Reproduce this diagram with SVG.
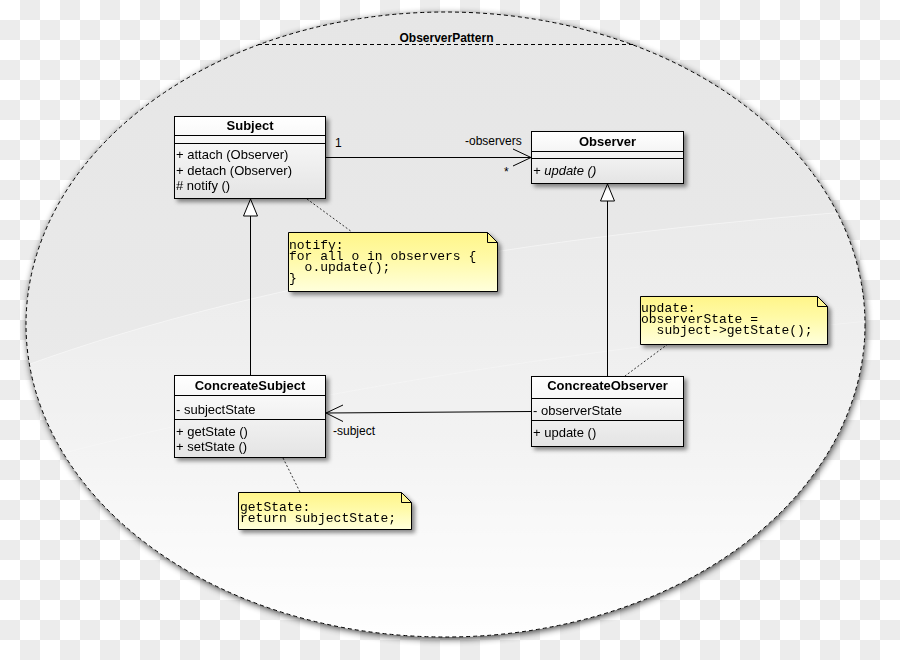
<svg xmlns="http://www.w3.org/2000/svg" width="900" height="660" viewBox="0 0 900 660">
  <defs>
    <pattern id="checker" width="40" height="40" patternUnits="userSpaceOnUse">
      <rect width="40" height="40" fill="#ffffff"/>
      <rect x="20" y="0" width="20" height="20" fill="#ececec"/>
      <rect x="0" y="20" width="20" height="20" fill="#ececec"/>
    </pattern>
    <filter id="pkgShadow" x="-10%" y="-10%" width="120%" height="120%">
      <feGaussianBlur in="SourceAlpha" stdDeviation="3.5"/>
      <feOffset dx="1" dy="2" result="b"/>
      <feComponentTransfer><feFuncA type="linear" slope="0.75"/></feComponentTransfer>
      <feMerge><feMergeNode/><feMergeNode in="SourceGraphic"/></feMerge>
    </filter>
    <filter id="boxShadow" x="-10%" y="-10%" width="125%" height="130%">
      <feDropShadow dx="3" dy="3" stdDeviation="2" flood-color="#000" flood-opacity="0.45"/>
    </filter>
    <linearGradient id="boxFill" x1="0" y1="0" x2="0" y2="1">
      <stop offset="0" stop-color="#ffffff"/>
      <stop offset="1" stop-color="#e4e4e4"/>
    </linearGradient>
    <linearGradient id="noteFill" x1="0" y1="0" x2="0" y2="1">
      <stop offset="0" stop-color="#fff589"/>
      <stop offset="0.45" stop-color="#fffaa8"/>
      <stop offset="1" stop-color="#ffffdc"/>
    </linearGradient>
    <linearGradient id="baseFill" gradientUnits="userSpaceOnUse" x1="0" y1="12" x2="0" y2="637">
      <stop offset="0" stop-color="#e6e6e6"/>
      <stop offset="0.5" stop-color="#e9e9e9"/>
      <stop offset="1" stop-color="#f0f0f0"/>
    </linearGradient>
    <linearGradient id="glossFill" gradientUnits="userSpaceOnUse" x1="0" y1="230" x2="0" y2="640">
      <stop offset="0" stop-color="#ffffff" stop-opacity="0.12"/>
      <stop offset="0.5" stop-color="#ffffff" stop-opacity="0.35"/>
      <stop offset="1" stop-color="#ffffff" stop-opacity="0.95"/>
    </linearGradient>
    <clipPath id="pkgClip">
      <ellipse cx="445.5" cy="324.5" rx="419.5" ry="312.5"/>
    </clipPath>
    <style>
      .box { fill: url(#boxFill); stroke: #000; stroke-width: 1; }
      .sep { stroke: #000; stroke-width: 1; }
      .note { fill: url(#noteFill); stroke: #000; stroke-width: 1; }
      .fold { fill: none; stroke: #000; stroke-width: 1; }
      .ttl { font-family: "Liberation Sans", Arial, sans-serif; font-size: 13px; font-weight: bold; fill: #000; text-anchor: middle; }
      .txt { font-family: "Liberation Sans", Arial, sans-serif; font-size: 13px; fill: #000; }
      .ital { font-style: italic; }
      .mono { font-family: "Liberation Mono", "Courier New", monospace; font-size: 13px; fill: #000; white-space: pre; }
      .line { fill: none; stroke: #000; stroke-width: 1; }
      .dots { fill: none; stroke: #333; stroke-width: 1; stroke-dasharray: 2 2; }
    </style>
  </defs>

  <rect width="900" height="660" fill="url(#checker)"/>

  <g id="package-ObserverPattern">
    <ellipse cx="445.5" cy="324.5" rx="419.5" ry="312.5" fill="url(#baseFill)" filter="url(#pkgShadow)"/>
    <g clip-path="url(#pkgClip)">
      <path d="M0,375 C250,280 560,232 900,208 L900,660 L0,660 Z" fill="url(#glossFill)"/>
      <path d="M0,375 C250,280 560,232 900,208" fill="none" stroke="#ffffff" stroke-opacity="0.45" stroke-width="1"/>
      <path d="M0,470 C250,400 560,350 900,318" fill="none" stroke="#ffffff" stroke-opacity="0.25" stroke-width="1"/>
    </g>
    <ellipse cx="445.5" cy="324.5" rx="419.5" ry="312.5" fill="none" stroke="#000" stroke-width="1" stroke-dasharray="4 3"/>
    <line x1="258" y1="44.5" x2="633" y2="44.5" stroke="#000" stroke-width="1" stroke-dasharray="4 3"/>
    <text x="446.5" y="42" class="ttl" style="font-size:12px">ObserverPattern</text>
  </g>

  <g id="connectors">
    <line class="line" x1="325" y1="157.5" x2="531" y2="157.5"/>
    <polyline class="line" points="513,149 531,157.5 513,166"/>
    <text x="335" y="147" class="txt" style="font-size:12px">1</text>
    <text x="465" y="144.5" class="txt" style="font-size:12px">-observers</text>
    <text x="504" y="176" class="txt" style="font-size:12px">*</text>

    <line class="line" x1="250.5" y1="375" x2="250.5" y2="216"/>
    <polygon points="250.5,199 243.5,216 257.5,216" fill="#ffffff" stroke="#000" stroke-width="1"/>

    <line class="line" x1="607.5" y1="376" x2="607.5" y2="201"/>
    <polygon points="607.5,184 600.5,201 614.5,201" fill="#ffffff" stroke="#000" stroke-width="1"/>

    <line class="line" x1="531" y1="411.5" x2="326" y2="413"/>
    <polyline class="line" points="343,405 326,413 343,421.5"/>
    <text x="333" y="435" class="txt" style="font-size:12px">-subject</text>

    <line class="dots" x1="307" y1="199" x2="352" y2="232"/>
    <line class="dots" x1="668" y1="344" x2="625" y2="376"/>
    <line class="dots" x1="283" y1="458" x2="300" y2="492"/>
  </g>

  <g id="Subject" filter="url(#boxShadow)">
    <rect class="box" x="174.5" y="116.5" width="151" height="82"/>
    <line class="sep" x1="174.5" y1="135.5" x2="325.5" y2="135.5"/>
    <line class="sep" x1="174.5" y1="143.5" x2="325.5" y2="143.5"/>
    <text x="250" y="130" class="ttl">Subject</text>
    <text x="176" y="159" class="txt">+ attach (Observer)</text>
    <text x="176" y="174.5" class="txt">+ detach (Observer)</text>
    <text x="176" y="190" class="txt"># notify ()</text>
  </g>

  <g id="Observer" filter="url(#boxShadow)">
    <rect class="box" x="531.5" y="131.5" width="152" height="52"/>
    <line class="sep" x1="531.5" y1="151.5" x2="683.5" y2="151.5"/>
    <line class="sep" x1="531.5" y1="158.5" x2="683.5" y2="158.5"/>
    <text x="607.5" y="145.5" class="ttl">Observer</text>
    <text x="533" y="174.5" class="txt ital">+ update ()</text>
  </g>

  <g id="ConcreateSubject" filter="url(#boxShadow)">
    <rect class="box" x="174.5" y="375.5" width="151" height="82"/>
    <line class="sep" x1="174.5" y1="395.5" x2="325.5" y2="395.5"/>
    <line class="sep" x1="174.5" y1="419.5" x2="325.5" y2="419.5"/>
    <text x="250" y="389.5" class="ttl">ConcreateSubject</text>
    <text x="176" y="413.5" class="txt">- subjectState</text>
    <text x="176" y="435.5" class="txt">+ getState ()</text>
    <text x="176" y="450.5" class="txt">+ setState ()</text>
  </g>

  <g id="ConcreateObserver" filter="url(#boxShadow)">
    <rect class="box" x="531.5" y="376.5" width="152" height="70"/>
    <line class="sep" x1="531.5" y1="398.5" x2="683.5" y2="398.5"/>
    <line class="sep" x1="531.5" y1="420.5" x2="683.5" y2="420.5"/>
    <text x="607.5" y="389.5" class="ttl">ConcreateObserver</text>
    <text x="533" y="414.5" class="txt">- observerState</text>
    <text x="533" y="436.5" class="txt">+ update ()</text>
  </g>

  <g id="note-notify" filter="url(#boxShadow)">
    <path class="note" d="M288.5,232.5 H487.5 L497.5,242.5 V291.5 H288.5 Z"/>
    <path class="fold" d="M487.5,232.5 V242.5 H497.5"/>
    <text class="mono" x="289" y="248.5">notify:</text>
    <text class="mono" x="289" y="259.5">for all o in observers {</text>
    <text class="mono" x="289" y="270.5">  o.update();</text>
    <text class="mono" x="289" y="281.5">}</text>
  </g>

  <g id="note-update" filter="url(#boxShadow)">
    <path class="note" d="M640.5,296.5 H817.5 L827.5,306.5 V344.5 H640.5 Z"/>
    <path class="fold" d="M817.5,296.5 V306.5 H827.5"/>
    <text class="mono" x="641" y="312">update:</text>
    <text class="mono" x="641" y="323">observerState =</text>
    <text class="mono" x="641" y="334">  subject-&gt;getState();</text>
  </g>

  <g id="note-getState" filter="url(#boxShadow)">
    <path class="note" d="M238.5,492.5 H401.5 L411.5,502.5 V529.5 H238.5 Z"/>
    <path class="fold" d="M401.5,492.5 V502.5 H411.5"/>
    <text class="mono" x="240" y="510.5">getState:</text>
    <text class="mono" x="240" y="521.5">return subjectState;</text>
  </g>
</svg>
